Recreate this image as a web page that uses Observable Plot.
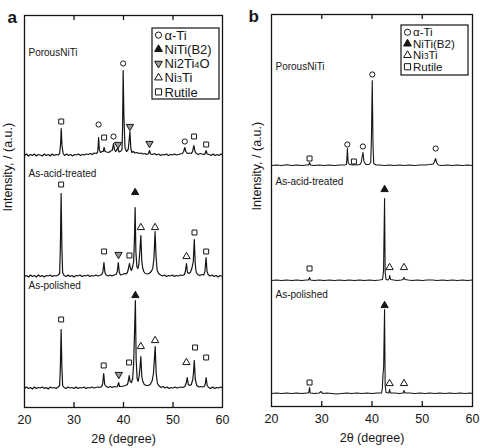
<!DOCTYPE html>
<html><head><meta charset="utf-8">
<script src="https://cdn.jsdelivr.net/npm/d3@7"></script>
<script src="https://cdn.jsdelivr.net/npm/@observablehq/plot@0.6"></script>
<style>
body{margin:0;background:#fff;}
#wrap{position:relative;width:480px;height:448px;overflow:hidden;font-family:"Liberation Sans",Arial,sans-serif;}
#wrap svg{position:absolute;top:0;}
</style></head><body><div id="wrap"></div>
<script>
// ---------- data ----------
const xTicks = [20, 30, 40, 50, 60];
const innerTicks = [30, 40, 50];
const sampleNames = ["PorousNiTi", "As-acid-treated", "As-polished"];
const offsetsA = [252, 131, 19];
const offsetsB = [241, 126, 13];

// panel a traces: [2θ, intensity above baseline]
const porousA = [[20,0],[20.4,1.5],[20.8,-0.5],[21.2,1],[21.6,0],[22,1.5],[22.4,-0.5],[22.8,1],[23.2,0.5],[23.6,-0.5],[24,1.5],[24.4,0],[24.8,1],[25.2,-0.5],[25.6,1.5],[26,0],[26.4,1],[26.8,0.5],[27.1,2],[27.3,12],[27.42,27],[27.58,10],[27.8,2],[28.1,0],[28.5,1.5],[28.9,0],[29.3,1],[29.7,-0.5],[30.1,1],[30.5,0.5],[30.9,1.5],[31.3,0],[31.7,1],[32.1,0.5],[32.5,1.5],[32.9,1],[33.3,2],[33.7,1],[34.1,2.5],[34.5,2],[34.75,3],[34.87,8],[34.97,18],[35.12,6],[35.35,3],[35.7,4],[35.9,4],[36.08,8],[36.28,4],[36.6,3.5],[37,3],[37.4,4.5],[37.7,5],[37.85,8],[37.98,12],[38.18,6],[38.4,4],[38.6,5],[38.85,8],[39.1,3.5],[39.4,4],[39.7,6],[39.82,30],[39.93,85],[40.08,40],[40.3,8],[40.6,4],[40.95,6],[41.12,14],[41.3,24],[41.48,7],[41.7,3],[42,4],[42.3,2.5],[42.7,3],[43.1,2],[43.5,2.5],[43.9,1.5],[44.3,2],[44.7,1],[45.05,2],[45.25,5],[45.45,1.5],[45.9,1],[46.3,2],[46.7,0.5],[47.1,1.5],[47.5,0],[47.9,1],[48.3,0.5],[48.7,1.5],[49.1,0],[49.5,1],[49.9,0.5],[50.3,1.5],[50.7,0.5],[51.1,1],[51.5,1.5],[51.9,2],[52.15,4],[52.38,8],[52.6,4],[52.9,2],[53.3,2.5],[53.7,2],[53.95,4],[54.22,10],[54.45,4],[54.7,2],[55.1,1],[55.5,2],[55.9,1.5],[56.3,1],[56.5,2],[56.7,5],[56.9,1.5],[57.3,1],[57.7,0],[58.1,1.5],[58.5,0],[58.9,1],[59.3,0],[59.7,1.5],[60,0.5]];
const acidA = [[20,0],[20.4,1],[20.8,-0.5],[21.2,1.5],[21.6,0],[22,1],[22.4,-0.5],[22.8,1.5],[23.2,0],[23.6,1],[24,-0.5],[24.4,1],[24.8,0.5],[25.2,1.5],[25.6,0],[26,1],[26.4,0.5],[26.8,1.5],[27.1,3],[27.25,30],[27.4,83],[27.55,30],[27.7,4],[28,1],[28.4,0],[28.8,1.5],[29.2,0],[29.6,1],[30,-0.5],[30.4,1],[30.8,0.5],[31.2,1.5],[31.6,0],[32,1],[32.4,0.5],[32.8,1.5],[33.2,0],[33.6,1],[34,0.5],[34.4,1.5],[34.8,0.5],[35.2,1],[35.6,2],[35.85,5],[36.05,14],[36.25,4],[36.5,1.5],[36.9,0.5],[37.3,1.5],[37.7,0.5],[38.1,1.5],[38.5,2],[38.75,5],[38.95,14],[39.15,4],[39.4,1.5],[39.8,2],[40.2,3],[40.5,2.5],[40.8,4],[41.0,8],[41.2,13],[41.4,8],[41.6,6],[41.85,10],[42.05,15],[42.2,35],[42.35,69],[42.5,25],[42.7,10],[42.9,8],[43.1,12],[43.3,25],[43.5,41],[43.7,15],[43.9,8],[44.1,5],[44.4,3],[44.8,2.5],[45.2,3],[45.6,5],[45.9,8],[46.15,18],[46.38,45],[46.58,20],[46.8,6],[47.1,3],[47.5,1.5],[47.9,0.5],[48.3,1.5],[48.7,0],[49.1,1],[49.5,0.5],[49.9,1.5],[50.3,0],[50.7,1],[51.1,0.5],[51.5,1.5],[51.9,1],[52.3,2],[52.5,5],[52.72,13],[52.92,4],[53.2,3],[53.5,4],[53.8,8],[54.1,15],[54.3,37],[54.5,12],[54.7,4],[55,2],[55.4,1],[55.8,2],[56.2,1.5],[56.45,5],[56.68,19],[56.88,5],[57.1,2],[57.5,0.5],[57.9,1.5],[58.3,0],[58.7,1],[59.1,-0.5],[59.5,1],[60,0]];
const polishedA = [[20,0],[20.4,1.5],[20.8,0],[21.2,1],[21.6,-0.5],[22,1.5],[22.4,0],[22.8,1],[23.2,0.5],[23.6,1.5],[24,0],[24.4,1],[24.8,-0.5],[25.2,1.5],[25.6,0.5],[26,1],[26.4,0],[26.8,1.5],[27.1,3],[27.25,22],[27.4,59],[27.55,22],[27.7,3],[28,1],[28.4,0],[28.8,1.5],[29.2,0.5],[29.6,1],[30,0],[30.4,1.5],[30.8,0],[31.2,1],[31.6,0.5],[32,1.5],[32.4,0],[32.8,1],[33.2,0.5],[33.6,1.5],[34,0.5],[34.4,1],[34.8,1.5],[35.2,1],[35.6,2],[35.8,5],[36.0,15],[36.2,4],[36.5,2],[36.9,1],[37.3,2],[37.7,1],[38.1,2],[38.5,1.5],[38.8,2],[39.02,6],[39.2,2],[39.6,2],[40,2.5],[40.4,3],[40.8,4],[41.0,8],[41.15,13],[41.35,7],[41.6,6],[41.85,10],[42.05,25],[42.25,60],[42.4,88],[42.55,30],[42.75,10],[42.95,7],[43.15,12],[43.35,22],[43.5,32],[43.7,12],[43.9,7],[44.2,4],[44.6,3],[45,3],[45.4,4],[45.8,8],[46.05,15],[46.25,30],[46.4,42],[46.6,15],[46.85,5],[47.2,2.5],[47.6,1],[48,2],[48.4,0.5],[48.8,1.5],[49.2,0],[49.6,1],[50,0.5],[50.4,1.5],[50.8,0.5],[51.2,1],[51.6,1.5],[52,1],[52.4,2],[52.7,6],[52.88,11],[53.08,4],[53.4,3],[53.7,4],[54,9],[54.15,16],[54.3,28],[54.5,9],[54.8,3],[55.2,1.5],[55.6,2],[56,1.5],[56.3,2],[56.5,4],[56.7,11],[56.9,3],[57.2,1],[57.6,0],[58,1.5],[58.4,0],[58.8,1],[59.2,0.5],[59.6,1.5],[60,0.5]];

// panel b traces
const porousB = [[20,0],[21,0.5],[22,0],[23,0.7],[24,0],[25,0.5],[26,0],[27,0.5],[27.4,0.5],[27.57,3],[27.75,0.5],[28.5,0],[29.5,0.5],[30.5,0],[31.5,0.5],[32.5,0],[33.5,0.5],[34.5,0.5],[34.9,1],[35.0,6],[35.1,17],[35.25,3],[35.5,1],[36.2,0.5],[36.4,1],[37,0.5],[37.6,1],[37.85,3],[38.05,9],[38.2,13],[38.4,4],[38.8,1],[39.4,1],[39.75,3],[39.9,30],[40.05,85],[40.2,20],[40.35,2],[40.8,0.5],[41.5,0.5],[42.5,0],[43.5,0.5],[44.5,0],[45.5,0.5],[46.5,0],[47.5,0.5],[48.5,0],[49.5,0.5],[50.5,0.5],[51.5,1],[52.2,1.5],[52.45,4],[52.65,7],[52.85,3],[53.2,0.5],[54,0],[55,0.5],[56,0],[57,0.5],[58,0],[59,0.5],[60,0]];
const acidB = [[20,0],[21,0.5],[22,0],[23,0.5],[24,0],[25,0.5],[26,0],[27,0.5],[27.4,0.5],[27.57,3],[27.75,0.5],[28.5,0],[29.5,0.5],[30.5,0],[31.5,0.5],[32.5,0],[33.5,0.5],[34.5,0],[35.5,0.5],[36.5,0],[37.5,0.5],[38.5,0],[39.5,0.5],[40.5,0],[41.5,0.5],[42.1,1],[42.3,10],[42.5,82],[42.62,8],[42.8,1],[43.2,0.5],[43.42,2],[43.52,5],[43.7,1],[44.3,0.5],[45,0],[45.8,0.5],[46.2,1],[46.38,3],[46.6,1],[47.2,0.5],[48,0],[49,0.5],[50,0],[51,0.5],[52,0.5],[53,0],[54,0.5],[55,0],[56,0.5],[57,0],[58,0.5],[59,0],[60,0.5]];
const polishedB = [[20,0],[21,0.5],[22,0],[23,0.5],[24,0],[25,0.5],[26,0],[27,0.5],[27.42,0.5],[27.57,6],[27.72,0.5],[28.5,0],[29.5,0.5],[29.9,2],[30.2,0],[31,0.5],[32,0],[33,-0.5],[34,0],[35,0.5],[36,0],[37,0.5],[38,0],[39,0.5],[40,0],[41,0.5],[41.9,0.5],[42.05,5],[42.2,20],[42.32,26],[42.42,60],[42.5,84],[42.62,8],[42.8,1],[43.35,0.5],[43.5,4],[43.65,0.5],[44.5,0.5],[45.5,0],[46.2,0.5],[46.36,3],[46.55,0.5],[47.5,0.5],[48.5,0],[49.5,0.5],[50.5,0],[51.5,0.5],[52.5,0],[53.5,0.5],[54.5,0],[55.5,0.5],[56.5,0],[57.5,0.5],[58.5,0],[59.5,0.5],[60,0]];

// phase markers: s = sample index, x = 2θ, y = height above baseline
const alphaTiA = [{s:0,x:34.97,y:31},{s:0,x:37.98,y:19},{s:0,x:39.93,y:92},{s:0,x:52.38,y:14}];
const rutileA = [{s:0,x:27.42,y:34},{s:0,x:36.08,y:18},{s:0,x:54.26,y:19},{s:0,x:56.7,y:11},
  {s:1,x:27.4,y:92},{s:1,x:36.08,y:25},{s:1,x:41.2,y:21},{s:1,x:54.34,y:44},{s:1,x:56.7,y:25},
  {s:2,x:27.4,y:69},{s:2,x:36.0,y:23},{s:2,x:41.13,y:26},{s:2,x:54.45,y:41},{s:2,x:56.7,y:31}];
const ni2ti4oA = [{s:0,x:38.9,y:11},{s:0,x:41.3,y:29},{s:0,x:45.25,y:12},{s:1,x:38.99,y:22},{s:2,x:39.05,y:14}];
const nitiA = [{s:1,x:42.35,y:84},{s:2,x:42.4,y:93}];
const ni3tiA = [{s:1,x:43.5,y:49},{s:1,x:46.38,y:49},{s:1,x:52.73,y:20},{s:2,x:43.5,y:42},{s:2,x:46.38,y:48},{s:2,x:52.7,y:26}];

const alphaTiB = [{s:0,x:35.08,y:21},{s:0,x:38.19,y:19},{s:0,x:40.06,y:91},{s:0,x:52.67,y:17}];
const rutileB = [{s:0,x:27.57,y:7},{s:0,x:36.4,y:4},{s:1,x:27.57,y:12},{s:2,x:27.57,y:11}];
const ni2ti4oB = [];
const nitiB = [{s:1,x:42.51,y:91},{s:2,x:42.51,y:88}];
const ni3tiB = [{s:1,x:43.5,y:13},{s:1,x:46.36,y:13},{s:2,x:43.5,y:10},{s:2,x:46.36,y:10}];

const legendA = ["α-Ti", "NiTi(B2)", "Ni2Ti4O", "Ni3Ti", "Rutile"];
const legendB = ["α-Ti", "NiTi(B2)", "Ni3Ti", "Rutile"];

// ---------- drawing ----------
const FONT = '"Liberation Sans", Arial, sans-serif';
const INK = "#151515";
const wrap = document.getElementById("wrap");

function panel(cfg) {
  const {traces, offsets, m, mTop, mLeft, mRight, lift, letter, letterDx, letterDy, ylabDx, lw} = cfg;
  const lineData = traces.flatMap((t, i) => t.map(([x, v]) => ({s: i, x, y: offsets[i] + v})));
  const mk = arr => arr.map(d => ({x: d.x, y: offsets[d.s] + d.y}));
  const H = 392;
  const dotBase = {x: "x", y: "y", stroke: INK, strokeWidth: 1};
  const svg = Plot.plot({
    width: 240, height: 448,
    marginTop: mTop, marginBottom: 448 - mTop - H, marginLeft: mLeft, marginRight: mRight,
    style: {fontFamily: FONT, background: "transparent", color: INK},
    x: {domain: [20, 60]},
    y: {domain: [0, H], axis: null},
    marks: [
      Plot.line(lineData, {x: "x", y: "y", z: "s", stroke: INK, strokeWidth: lw}),
      Plot.ruleX(innerTicks, {y1: 0, y2: 5, stroke: INK, strokeWidth: 1.3}),
      Plot.ruleX(innerTicks, {y1: H - 5, y2: H, stroke: INK, strokeWidth: 1.3}),
      Plot.frame({stroke: INK, strokeWidth: 1.3}),
      Plot.dot(mk(m.alpha), {...dotBase, symbol: "circle", r: 2.6, fill: "white"}),
      Plot.dot(mk(m.rutile), {...dotBase, symbol: "square", r: 2.8, fill: "white"}),
      Plot.dot(mk(m.ni2ti4o), {...dotBase, symbol: "triangle", rotate: 180, r: 2.7, fill: "#999"}),
      Plot.dot(mk(m.niti), {...dotBase, symbol: "triangle", r: 2.7, fill: INK}),
      Plot.dot(mk(m.ni3ti), {...dotBase, symbol: "triangle", r: 2.7, fill: "white"}),
      Plot.text(sampleNames, {frameAnchor: "left", y: (d, i) => offsets[i] + lift, dx: 4, textAnchor: "start", fontSize: 10}),
      Plot.axisX({ticks: xTicks, tickSize: 0, tickPadding: 8, fontSize: 12.5, label: null, tickFormat: d => String(d)}),
      Plot.text(["2θ (degree)"], {frameAnchor: "bottom", dy: 35, fontSize: 12.5}),
      Plot.text(["Intensity, / (a.u.)"], {frameAnchor: "left", rotate: -90, dx: ylabDx, fontSize: 12.5}),
      Plot.text([letter], {frameAnchor: "top-left", dx: letterDx, dy: letterDy, fontSize: 17, fontWeight: "bold"})
    ]
  });
  return svg;
}

function legend(entries, box) {
  const svg = d3.select(wrap).append("svg")
    .attr("width", box.w + 2).attr("height", box.h + 2)
    .style("left", (box.x - 1) + "px").style("top", (box.y - 1) + "px");
  svg.append("rect").attr("x", 1).attr("y", 1).attr("width", box.w).attr("height", box.h)
    .attr("fill", "white").attr("stroke", INK).attr("stroke-width", 1.2);
  const spec = {
    "α-Ti": {type: d3.symbolCircle, size: 30, fill: "white", rot: 0},
    "NiTi(B2)": {type: d3.symbolTriangle, size: 26, fill: INK, rot: 0},
    "Ni2Ti4O": {type: d3.symbolTriangle, size: 26, fill: "#999", rot: 180},
    "Ni3Ti": {type: d3.symbolTriangle, size: 26, fill: "white", rot: 0},
    "Rutile": {type: d3.symbolSquare, size: 38, fill: "white", rot: 0}
  };
  entries.forEach((name, i) => {
    const cy = 1 + box.pad + box.row * (i + 0.5);
    const sp = spec[name];
    svg.append("path").attr("d", d3.symbol(sp.type, sp.size)())
      .attr("transform", `translate(${1 + box.sx},${cy}) rotate(${sp.rot})`)
      .attr("fill", sp.fill).attr("stroke", INK).attr("stroke-width", 1);
    const t = svg.append("text").attr("x", 1 + box.tx).attr("y", cy).attr("dy", "0.36em")
      .attr("font-family", FONT).attr("font-size", box.fs).attr("fill", INK);
    if (name === "Ni2Ti4O") {
      t.append("tspan").text("Ni2Ti");
      t.append("tspan").attr("font-size", box.fs * 0.72).text("4");
      t.append("tspan").text("O");
    } else if (name === "Ni3Ti") {
      t.append("tspan").text("Ni");
      t.append("tspan").attr("font-size", box.fs * 0.72).text("3");
      t.append("tspan").text("Ti");
    } else {
      t.text(name);
    }
  });
}

const svgA = panel({
  traces: [porousA, acidA, polishedA], offsets: offsetsA,
  m: {alpha: alphaTiA, rutile: rutileA, ni2ti4o: ni2ti4oA, niti: nitiA, ni3ti: ni3tiA},
  mTop: 15, mLeft: 24, mRight: 18, lift: 103, lw: 1.2,
  letter: "a", letterDx: -17, letterDy: -5, ylabDx: -16.5
});
svgA.style.left = "0px";
wrap.appendChild(svgA);

const svgB = panel({
  traces: [porousB, acidB, polishedB], offsets: offsetsB,
  m: {alpha: alphaTiB, rutile: rutileB, ni2ti4o: ni2ti4oB, niti: nitiB, ni3ti: ni3tiB},
  mTop: 14, mLeft: 31, mRight: 8, lift: 99, lw: 1.1,
  letter: "b", letterDx: -23, letterDy: -5, ylabDx: -15
});
svgB.style.left = "240px";
wrap.appendChild(svgB);

legend(legendA, {x: 151.7, y: 28.3, w: 67, h: 71, pad: 0, row: 14.2, sx: 6.5, tx: 12.5, fs: 13});
legend(legendB, {x: 401.3, y: 25, w: 67, h: 50, pad: 1.5, row: 11.5, sx: 6.5, tx: 12, fs: 11.5});
</script></body></html>
